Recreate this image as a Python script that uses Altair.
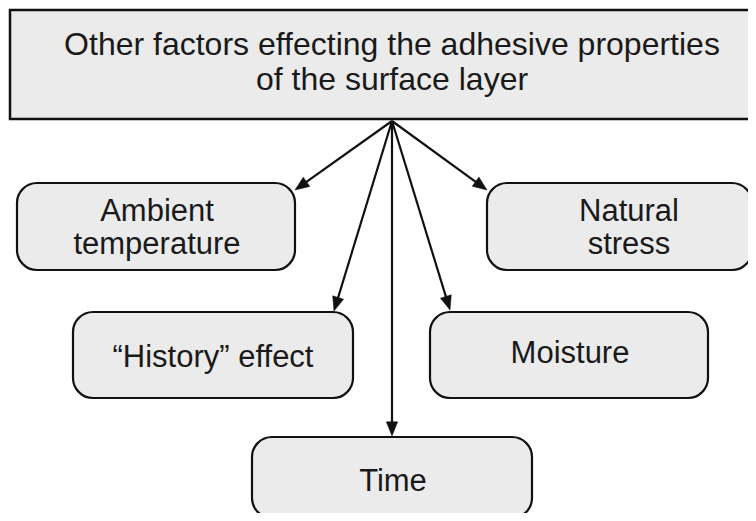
import math
import altair as alt
import pandas as pd

# ---- data -------------------------------------------------------------
title_label = ["Other factors effecting the adhesive properties", "of the surface layer"]
title_box = dict(x0=10, x1=770, y0=10, y1=119)
title_text_xy = (392, 55)

labels = [["Ambient", "temperature"], ["Natural", "stress"], ["\u201cHistory\u201d effect"],
          ["Moisture"], ["Time"]]
box_x0 = [17, 487, 73, 430, 252]
box_x1 = [295, 752, 353, 708, 532]
box_y0 = [183, 183, 312, 312, 437]
box_y1 = [270, 270, 398, 398, 518]
text_x = [157, 629, 213, 570, 393]
text_y = [221, 221, 367, 363, 491]

arrow_origin = (392, 121)
arrow_tip_x = [295, 487, 334, 450, 392]
arrow_tip_y = [190, 190, 311, 310, 436]

# ---- frame ------------------------------------------------------------
M = 8
W, H = 756, 521
xs = alt.Scale(domain=[M, W - M], nice=False, zero=False)
ys = alt.Scale(domain=[M, H - M], nice=False, zero=False, reverse=True)
FONT = "Liberation Sans"
FILL = "#ebebeb"
STROKE = "#111111"

top_df = pd.DataFrame([title_box])
boxes_df = pd.DataFrame({"x0": box_x0, "x1": box_x1, "y0": box_y0, "y1": box_y1})
text_df = pd.DataFrame({"label": labels, "x": text_x, "y": text_y})
title_df = pd.DataFrame({"label": [title_label], "x": [title_text_xy[0]], "y": [title_text_xy[1]]})

ox, oy = arrow_origin
rows = []
for tx, ty in zip(arrow_tip_x, arrow_tip_y):
    dx, dy = tx - ox, ty - oy
    L = math.hypot(dx, dy)
    ang = math.degrees(math.atan2(dx, -dy)) % 360
    ex, ey = tx - dx / L * 8, ty - dy / L * 8
    rows.append(dict(x=ox, y=oy, ex=ex, ey=ey, tx=tx, ty=ty, angle=ang))
arrows_df = pd.DataFrame(rows)

X = lambda f: alt.X(f, type="quantitative", scale=xs, axis=None)
Y = lambda f: alt.Y(f, type="quantitative", scale=ys, axis=None)

top_rect = alt.Chart(top_df).mark_rect(fill=FILL, stroke=STROKE, strokeWidth=2.5).encode(
    x=X("x0"), x2="x1", y=Y("y0"), y2="y1")

round_rects = alt.Chart(boxes_df).mark_rect(
    fill=FILL, stroke=STROKE, strokeWidth=2.2, cornerRadius=20).encode(
    x=X("x0"), x2="x1", y=Y("y0"), y2="y1")

lines = alt.Chart(arrows_df).mark_rule(color=STROKE, strokeWidth=2.2).encode(
    x=X("x"), y=Y("y"), x2="ex", y2="ey")

heads = alt.Chart(arrows_df).mark_point(
    shape="M0,0L-0.4,1L0.4,1Z", filled=True, fill=STROKE, stroke=STROKE,
    strokeWidth=0.5, opacity=1, size=800).encode(
    x=X("tx"), y=Y("ty"), angle=alt.Angle("angle:Q", scale=None))

title_text = alt.Chart(title_df).mark_text(
    font=FONT, fontSize=32, lineHeight=35, align="center", baseline="alphabetic",
    color="#1a1a1a").encode(x=X("x"), y=Y("y"), text="label")

box_text = alt.Chart(text_df).mark_text(
    font=FONT, fontSize=31, lineHeight=33, align="center", baseline="alphabetic",
    color="#1a1a1a").encode(x=X("x"), y=Y("y"), text="label")

chart = alt.layer(top_rect, lines, round_rects, heads, title_text, box_text).properties(
    width=W - 2 * M, height=H - 2 * M, padding=0, autosize=alt.AutoSizeParams(type="none"),
    background="white"
).configure_view(stroke=None)

chart.save("out.html", embed_options={"renderer": "svg", "actions": False})
